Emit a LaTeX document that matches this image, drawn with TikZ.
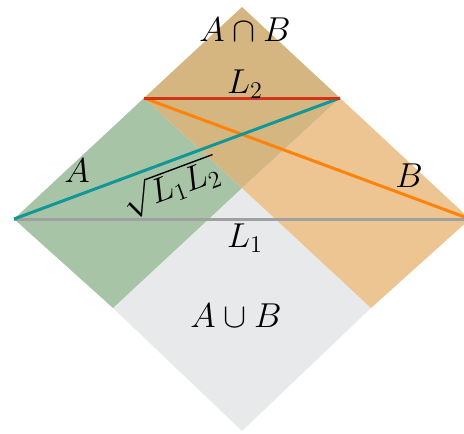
\documentclass[tikz,border=0pt]{standalone}
\definecolor{cgray}{RGB}{232,233,235}
\definecolor{cgreen}{RGB}{168,196,167}
\definecolor{corange}{RGB}{236,197,146}
\definecolor{cbrown}{RGB}{214,182,128}
\definecolor{lgray}{RGB}{160,160,160}
\definecolor{lteal}{RGB}{18,150,150}
\definecolor{lorange}{RGB}{255,130,10}
\definecolor{lred}{RGB}{208,52,20}
\begin{document}
\begin{tikzpicture}[x=0.5pt,y=-0.5pt,
  lbl/.style={font=\LARGE, inner sep=0pt},
  ln/.style={line width=1.5pt}]
\useasboundingbox (0,0) rectangle (464,433);
\clip (0,0) rectangle (464,433);
\coordinate (L) at (14,219);
\coordinate (R) at (470,219);
\coordinate (T) at (242,7);
\coordinate (Bt) at (242,431);
\coordinate (P) at (144,98);
\coordinate (Q) at (340,98);
\coordinate (M) at (242,188);
\coordinate (GA) at (113,308);
\coordinate (GB) at (371,308);
\fill[cgray] (M) -- (GA) -- (Bt) -- (GB) -- cycle;
\fill[cgreen] (L) -- (P) -- (M) -- (GA) -- cycle;
\fill[corange] (Q) -- (R) -- (GB) -- (M) -- cycle;
\fill[cbrown] (T) -- (Q) -- (M) -- (P) -- cycle;
\draw[ln, lgray] (L) -- (R);
\draw[ln, lorange] (P) -- (R);
\draw[ln, lteal] (L) -- (Q);
\draw[ln, lred] (P) -- (Q);
\node[lbl, anchor=base] (ab) at (245,42) {$A\cap B$};
\node[lbl, anchor=base] (l2) at (245,93) {$L_2$};
\node[lbl, anchor=base] (l1) at (245,247) {$L_1$};
\node[lbl, anchor=base] (aub) at (236,327) {$A\cup B$};
\node[lbl, anchor=base] (a) at (77,182) {$A$};
\node[lbl, anchor=base] (b) at (409,187) {$B$};
\node[lbl, rotate=20.4] (sq) at (171,187) {$\sqrt{L_1L_2}$};
\end{tikzpicture}
\end{document}
